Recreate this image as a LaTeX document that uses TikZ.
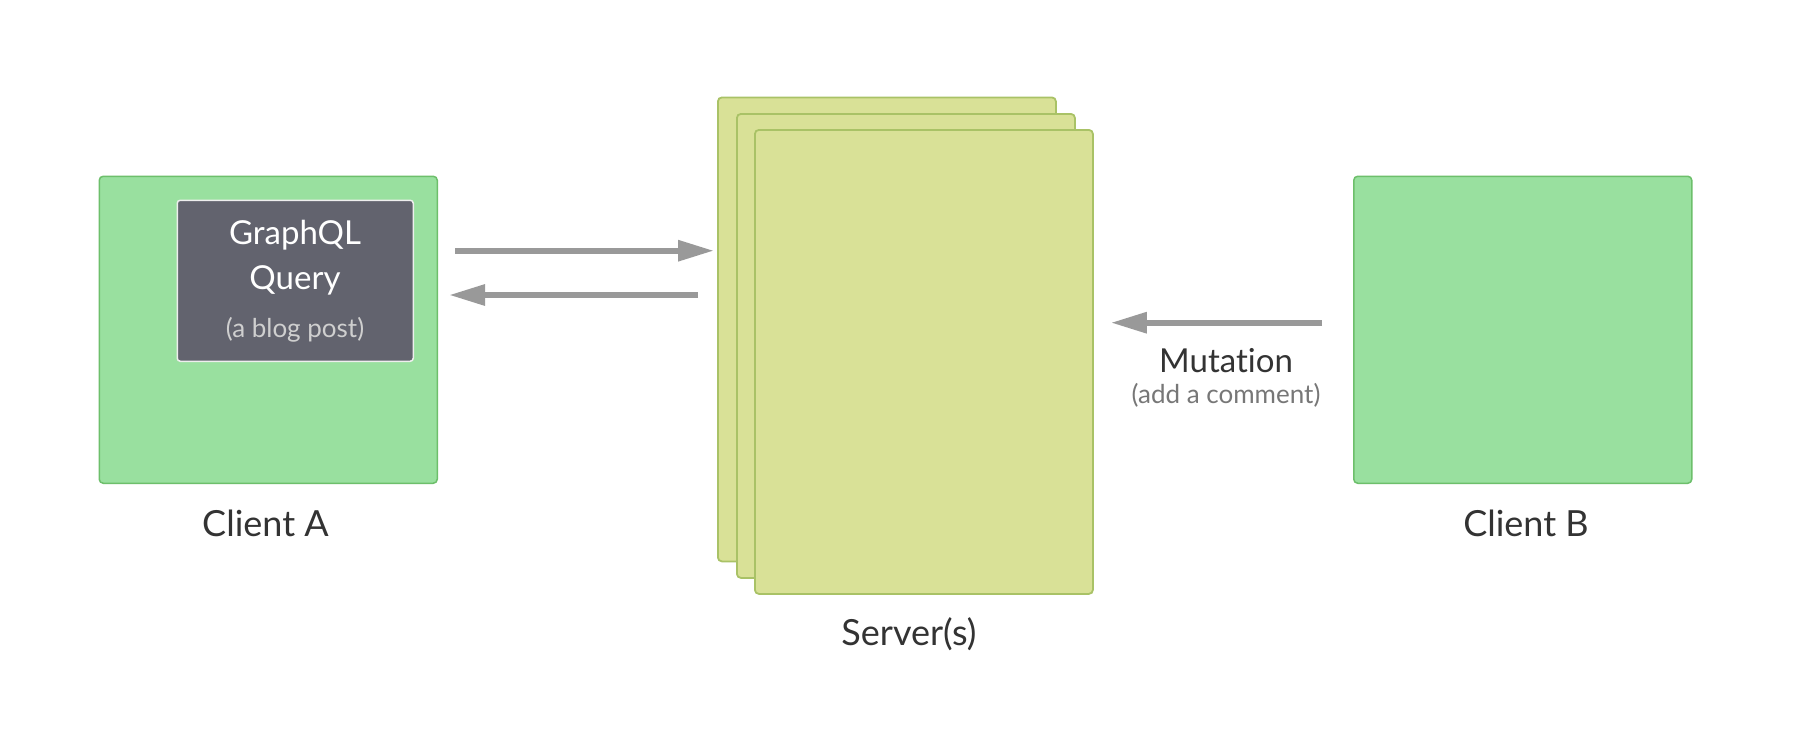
\documentclass[tikz,border=0pt]{standalone}
\usepackage{fontspec}
\setmainfont{Lato}[Ligatures=NoCommon]
\usetikzlibrary{arrows.meta,calc}
\definecolor{cfill}{HTML}{99E09F}
\definecolor{cline}{HTML}{6DBF6B}
\definecolor{sfill}{HTML}{D9E197}
\definecolor{sline}{HTML}{A9C266}
\definecolor{qfill}{HTML}{62636E}
\definecolor{qline}{HTML}{EEEEEE}
\definecolor{arrgray}{HTML}{999999}
\definecolor{txt}{HTML}{333333}
\definecolor{subgray}{HTML}{777777}
\definecolor{sublight}{HTML}{CFCFCF}
\tikzset{
  client/.style={draw=cline, fill=cfill, line width=1.5pt, rounded corners=4pt, anchor=north west, inner sep=0pt, minimum width=338pt, minimum height=307pt},
  server/.style={draw=sline, fill=sfill, line width=1.8pt, rounded corners=4pt, anchor=north west, inner sep=0pt, minimum width=338pt, minimum height=464pt},
  query/.style={draw=qline, fill=qfill, line width=1.5pt, rounded corners=3pt, anchor=north west, inner sep=0pt, minimum width=236pt, minimum height=161pt},
  arr/.style={draw=arrgray, line width=6pt, -{Triangle[length=36pt,width=20pt]}},
  biglabel/.style={text=txt, anchor=base, inner sep=0pt, font=\fontsize{36}{40}\selectfont},
  midlabel/.style={anchor=base, inner sep=0pt, font=\fontsize{33}{38}\selectfont},
  smalllabel/.style={anchor=base, inner sep=0pt, font=\fontsize{26}{30}\selectfont},
}
\begin{document}
\begin{tikzpicture}[x=1pt,y=-1pt]
\useasboundingbox[fill=white] (0,0) rectangle (1820,732);
% clients
\node[client] (clientA) at (98.5,175.5) {};
\node[query] (query) at (176.5,199.5) {};
\node[client] (clientB) at (1353,175.5) {};
% servers
\node[server] (srv1) at (717,96.5) {};
\node[server] (srv2) at (736,113) {};
\node[server] (srv3) at (754,129) {};
% query texts
\node[midlabel, text=white] (qt1) at (295,244) {GraphQL};
\node[midlabel, text=white] (qt2) at (295,289) {Query};
\node[smalllabel, text=sublight] (qt3) at (295,337.5) {(a blog post)};
% labels
\node[biglabel] (labA) at (265.5,536) {Client A};
\node[biglabel] (labB) at (1526,536) {Client B};
\node[biglabel] (labS) at (909,645) {Server(s)};
\node[midlabel, text=txt] (mut) at (1226,372) {Mutation};
\node[smalllabel, text=subgray] (mutsub) at (1226,403) {(add a comment)};
% arrows
\draw[arr] ([xshift=17pt]clientA.east |- 0,250.7) -- ([xshift=-3pt]srv1.west |- 0,250.7);
\draw[arr] ([xshift=-19pt]srv1.west |- 0,295) -- ([xshift=11pt]clientA.east |- 0,295);
\draw[arr] ([xshift=-31pt]clientB.west |- 0,322.7) -- ([xshift=17pt]srv3.east |- 0,322.7);
\end{tikzpicture}
\end{document}
